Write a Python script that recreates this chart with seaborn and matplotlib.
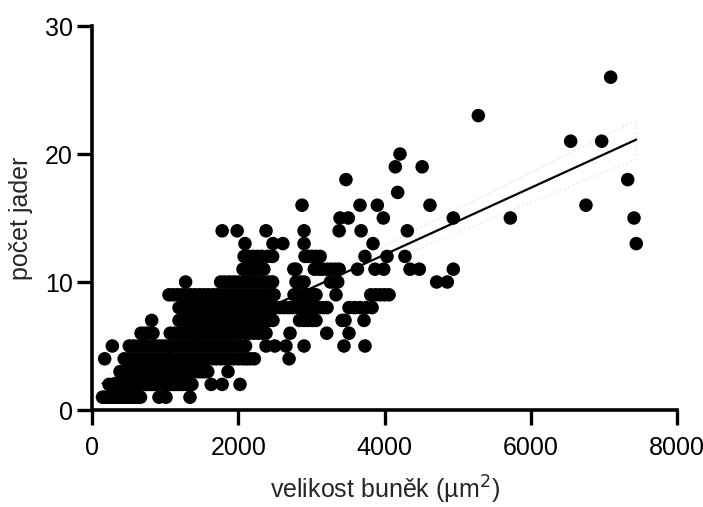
import numpy as np
import pandas as pd
import matplotlib
matplotlib.use("Agg")
import matplotlib.pyplot as plt
import seaborn as sns

# ---- data (cell area in um^2, grouped by nuclei count) ----
# the dense rows contain many overlapping points
n1 = [144, 170, 200, 230, 260, 290, 320, 350, 380, 410, 440, 470, 500, 530,
      550, 600, 630, 663, 916, 1012, 1340]
n2 = [233, 280, 310, 340, 370, 400, 430, 460, 490, 520, 550, 580, 610, 640,
      670, 700, 730, 760, 790, 820, 850, 880, 910, 940, 970, 1000, 1030, 1060,
      1090, 1120, 1150, 1180, 1210, 1240, 1290, 1330, 1367, 1630, 1780, 2024]
n3 = [383, 410, 440, 470, 500, 530, 560, 590, 620, 650, 680, 710, 740, 770,
      800, 830, 860, 890, 920, 950, 980, 1010, 1040, 1070, 1100, 1130, 1160,
      1190, 1220, 1250, 1280, 1310, 1340, 1370, 1400, 1430, 1460, 1490, 1520,
      1550, 1583, 1860]
n4 = [173, 440, 500, 560, 620, 680, 740, 800, 860, 920, 980, 1040, 1100, 1160,
      1220, 1280, 1340, 1400, 1460, 1520, 1580, 1640, 1700, 1760, 1820, 1880,
      1940, 2000, 2060, 2110, 2160, 2220, 2695]
n5 = [278, 510, 570, 630, 690, 750, 810, 870, 930, 990, 1050, 1110, 1170, 1230,
      1290, 1350, 1410, 1470, 1530, 1590, 1650, 1710, 1770, 1830, 1890, 1950,
      2020, 2100, 2380, 2500, 2653, 2900, 3446, 3733]
n6 = [670, 720, 760, 834, 1070, 1130, 1190, 1250, 1310, 1370, 1430, 1490, 1550,
      1610, 1670, 1730, 1790, 1850, 1910, 1970, 2030, 2090, 2150, 2210, 2270,
      2330, 2380, 2708, 3210, 3515]
n7 = [816, 1190, 1250, 1310, 1370, 1430, 1490, 1550, 1610, 1670, 1730, 1790,
      1850, 1910, 1970, 2030, 2090, 2150, 2210, 2270, 2330, 2380, 2420, 2475,
      2838, 2900, 2950, 3010, 3063, 3420, 3460, 3720]
n8 = [1190, 1250, 1310, 1370, 1430, 1490, 1550, 1610, 1670, 1730, 1790, 1850,
      1910, 1970, 2030, 2090, 2150, 2210, 2270, 2330, 2390, 2450, 2510, 2570,
      2630, 2690, 2750, 2810, 2870, 2930, 2990, 3050, 3100, 3160, 3214, 3515,
      3590, 3665, 3750, 3830]
n9 = [1053, 1110, 1170, 1230, 1290, 1350, 1410, 1470, 1530, 1590, 1650, 1710,
      1770, 1830, 1890, 1950, 2010, 2070, 2130, 2190, 2250, 2310, 2370, 2430,
      2490, 2763, 2820, 2880, 2930, 2970, 3020, 3063, 3337, 3812, 3875, 3938,
      4000, 4062]
n10 = [1280, 1760, 1820, 1880, 1940, 2000, 2060, 2120, 2180, 2240, 2300, 2360,
       2420, 2470, 2790, 2850, 2900, 3260, 3310, 3360, 4713, 4859]
n11 = [2065, 2126, 2180, 2240, 2300, 2350, 2760, 2790, 3040, 3100, 3150, 3210,
       3270, 3330, 3380, 3630, 3870, 3990, 4349, 4476, 4941]
n12 = [2080, 2140, 2200, 2260, 2320, 2400, 2470, 2913, 2960, 3010, 3060, 3120,
       3733, 4034, 4280]
n13 = [2092, 2475, 2610, 2900, 3843, 7443]
n14 = [1780, 1985, 2380, 2900, 3380, 3680, 4312]
n15 = [3391, 3505, 3984, 4941, 5721, 7412]
n16 = [2872, 3665, 3902, 4622, 6755]
n17 = [4180]
n18 = [3473, 7326]
n19 = [4148, 4515]
n20 = [4212]
n21 = [6546, 6970]
n23 = [5283]
n26 = [7093]

groups = [(1, n1), (2, n2), (3, n3), (4, n4), (5, n5), (6, n6), (7, n7),
          (8, n8), (9, n9), (10, n10), (11, n11), (12, n12), (13, n13),
          (14, n14), (15, n15), (16, n16), (17, n17), (18, n18), (19, n19),
          (20, n20), (21, n21), (23, n23), (26, n26)]

area = []
count = []
for k, xs in groups:
    area += xs
    count += [k] * len(xs)
df = pd.DataFrame({"area": area, "count": count})

x_ticks = [0, 2000, 4000, 6000, 8000]
y_ticks = [0, 10, 20, 30]

# ---- style ----
sns.set_style("ticks")
plt.rcParams["font.family"] = ["Liberation Sans Narrow", "Liberation Sans", "DejaVu Sans"]
plt.rcParams["mathtext.fontset"] = "custom"
plt.rcParams["mathtext.rm"] = "Liberation Sans Narrow"
plt.rcParams["mathtext.it"] = "Liberation Sans Narrow:italic"

fig = plt.figure(figsize=(7.03, 5.07), dpi=100)
ax = fig.add_axes([92 / 703, 97 / 507, 585 / 703, 384 / 507])

sns.regplot(data=df, x="area", y="count", scatter=False, ci=95, ax=ax,
            color="black", line_kws=dict(color="black", lw=1.6, zorder=2))
for coll in ax.collections:
    coll.set_facecolor("none")
    coll.set_edgecolor("#7a7a7a")
    coll.set_linestyle((0, (1, 1.5)))
    coll.set_linewidth(1.3)
    coll.set_zorder(1)

sns.scatterplot(data=df, x="area", y="count", ax=ax, s=95, color="black",
                edgecolor="none", linewidth=0, zorder=3, legend=False)

ax.set_xlim(0, 8000)
ax.set_ylim(0, 30)
ax.set_xticks(x_ticks)
ax.set_yticks(y_ticks)
ax.tick_params(axis="both", which="major", length=11, width=2.4,
               labelsize=18, color="black", labelcolor="black")
ax.tick_params(axis="x", pad=8)
ax.tick_params(axis="y", pad=3)
for side in ["left", "bottom"]:
    ax.spines[side].set_linewidth(2.6)
    ax.spines[side].set_color("black")
for side in ["top", "right"]:
    ax.spines[side].set_visible(False)

ax.set_xlabel(r"velikost buněk (µm$^2$)", fontsize=18, labelpad=10)
ax.set_ylabel("počet jader", fontsize=18, labelpad=8)

fig.savefig("out.png", dpi=100)
